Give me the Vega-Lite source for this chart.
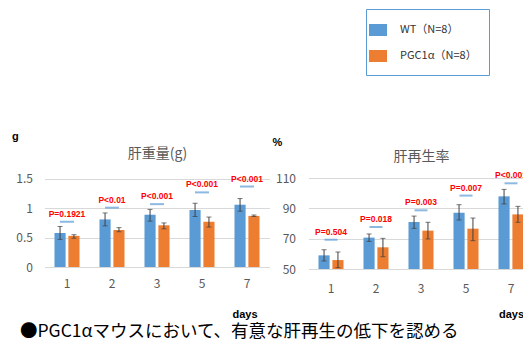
{
  "$schema": "https://vega.github.io/schema/vega-lite/v6.json",
  "background": "white",
  "padding": {"left": 11.5, "top": 8, "right": 0, "bottom": 0},
  "datasets": {
    "liver_weight": [
      {"day": "1", "group": "WT（N=8）", "mean": 0.58, "lo": 0.47, "hi": 0.69},
      {"day": "1", "group": "PGC1α（N=8）", "mean": 0.53, "lo": 0.49, "hi": 0.55},
      {"day": "2", "group": "WT（N=8）", "mean": 0.81, "lo": 0.70, "hi": 0.92},
      {"day": "2", "group": "PGC1α（N=8）", "mean": 0.63, "lo": 0.60, "hi": 0.67},
      {"day": "3", "group": "WT（N=8）", "mean": 0.89, "lo": 0.78, "hi": 0.98},
      {"day": "3", "group": "PGC1α（N=8）", "mean": 0.71, "lo": 0.65, "hi": 0.75},
      {"day": "5", "group": "WT（N=8）", "mean": 0.97, "lo": 0.86, "hi": 1.085},
      {"day": "5", "group": "PGC1α（N=8）", "mean": 0.77, "lo": 0.68, "hi": 0.85},
      {"day": "7", "group": "WT（N=8）", "mean": 1.06, "lo": 0.95, "hi": 1.165},
      {"day": "7", "group": "PGC1α（N=8）", "mean": 0.87, "lo": 0.86, "hi": 0.885}
    ],
    "weight_sig": [
      {"day": "1", "line": 0.77, "label": "P=0.1921"},
      {"day": "2", "line": 1.01, "label": "P<0.01"},
      {"day": "3", "line": 1.07, "label": "P<0.001"},
      {"day": "5", "line": 1.27, "label": "P<0.001"},
      {"day": "7", "line": 1.37, "label": "P<0.001"}
    ],
    "regen": [
      {"day": "1", "group": "WT（N=8）", "mean": 59.0, "lo": 55.3, "hi": 62.7},
      {"day": "1", "group": "PGC1α（N=8）", "mean": 55.9, "lo": 50.9, "hi": 61.2},
      {"day": "2", "group": "WT（N=8）", "mean": 70.7, "lo": 68.2, "hi": 73.1},
      {"day": "2", "group": "PGC1α（N=8）", "mean": 64.3, "lo": 58.1, "hi": 70.2},
      {"day": "3", "group": "WT（N=8）", "mean": 81.0, "lo": 76.8, "hi": 84.9},
      {"day": "3", "group": "PGC1α（N=8）", "mean": 75.3, "lo": 69.8, "hi": 80.8},
      {"day": "5", "group": "WT（N=8）", "mean": 87.1, "lo": 82.3, "hi": 92.4},
      {"day": "5", "group": "PGC1α（N=8）", "mean": 76.6, "lo": 68.7, "hi": 83.6},
      {"day": "7", "group": "WT（N=8）", "mean": 97.9, "lo": 92.9, "hi": 102.5},
      {"day": "7", "group": "PGC1α（N=8）", "mean": 86.0, "lo": 80.8, "hi": 91.3}
    ],
    "regen_sig": [
      {"day": "1", "line": 69.3, "label": "P=0.504"},
      {"day": "2", "line": 77.7, "label": "P=0.018"},
      {"day": "3", "line": 88.7, "label": "P=0.003"},
      {"day": "5", "line": 98.4, "label": "P=0.007"},
      {"day": "7", "line": 106.5, "label": "P<0.001"}
    ]
  },
  "title": {
    "text": "●PGC1αマウスにおいて、有意な肝再生の低下を認める",
    "orient": "bottom",
    "anchor": "start",
    "font": "Noto Sans CJK JP",
    "fontSize": 17.5,
    "fontWeight": "normal",
    "color": "#000000",
    "baseline": "top",
    "offset": 4,
    "dx": 8.5
  },
  "bounds": "flush",
  "spacing": 39,
  "hconcat": [
    {
      "width": 225,
      "height": 94,
      "resolve": {"axis": {"x": "independent"}},
      "layer": [
        {
          "data": {"name": "liver_weight"},
          "mark": {"type": "bar"},
          "encoding": {
            "x": {
              "field": "day", "type": "nominal",
              "scale": {"domain": ["1", "2", "3", "5", "7"], "paddingInner": 0.444, "paddingOuter": 0.222},
              "axis": {"orient": "bottom", "title": "days", "titleX": 212.5, "titleY": 47, "titleAlign": "right", "titleBaseline": "middle", "labelAngle": 0, "labelPadding": 11}
            },
            "xOffset": {"field": "group", "type": "nominal", "scale": {"domain": ["WT（N=8）", "PGC1α（N=8）"], "paddingInner": 0.2}},
            "y": {
              "field": "mean", "type": "quantitative", "title": "g",
              "scale": {"domain": [0, 1.5]},
              "axis": {"values": [0, 0.5, 1, 1.5], "tickCount": 10, "format": "~g", "titleAngle": 0, "titleAlign": "left", "titleBaseline": "middle", "titleX": -33, "titleY": -37, "labelPadding": 12}
            },
            "color": {"field": "group", "type": "nominal", "title": null, "scale": {"domain": ["WT（N=8）", "PGC1α（N=8）"], "range": ["#5b9bd5", "#ed7d31"]}}
          }
        },
        {
          "data": {"name": "liver_weight"},
          "mark": {"type": "rule", "color": "#404040", "strokeWidth": 1},
          "encoding": {
            "x": {"field": "day", "type": "nominal", "axis": null},
            "xOffset": {"field": "group", "type": "nominal"},
            "y": {"field": "lo", "type": "quantitative", "title": "g"},
            "y2": {"field": "hi"}
          }
        },
        {
          "data": {"name": "liver_weight"},
          "mark": {"type": "tick", "color": "#404040", "thickness": 1, "size": 5},
          "encoding": {
            "x": {"field": "day", "type": "nominal", "axis": null},
            "xOffset": {"field": "group", "type": "nominal"},
            "y": {"field": "lo", "type": "quantitative", "title": "g"}
          }
        },
        {
          "data": {"name": "liver_weight"},
          "mark": {"type": "tick", "color": "#404040", "thickness": 1, "size": 5},
          "encoding": {
            "x": {"field": "day", "type": "nominal", "axis": null},
            "xOffset": {"field": "group", "type": "nominal"},
            "y": {"field": "hi", "type": "quantitative", "title": "g"}
          }
        },
        {
          "data": {"name": "weight_sig"},
          "mark": {"type": "tick", "color": "#5b9bd5", "thickness": 2, "size": 14},
          "encoding": {
            "x": {
              "field": "day", "type": "nominal",
              "axis": {"orient": "top", "labels": false, "ticks": false, "domain": false, "grid": false, "title": "肝重量(g)", "titleX": 112.5, "titleY": -20, "titleAlign": "center", "titleBaseline": "middle", "titleFont": "Noto Sans CJK JP", "titleFontSize": 14, "titleFontWeight": "normal", "titleColor": "#595959"}
            },
            "y": {"field": "line", "type": "quantitative", "title": "g"}
          }
        },
        {
          "data": {"name": "weight_sig"},
          "mark": {"type": "text", "color": "#ff0000", "font": "Liberation Sans", "fontWeight": "bold", "fontSize": 8.5, "baseline": "middle", "dy": -8},
          "encoding": {
            "x": {"field": "day", "type": "nominal", "axis": null},
            "y": {"field": "line", "type": "quantitative", "title": "g"},
            "text": {"field": "label"}
          }
        }
      ]
    },
    {
      "width": 225,
      "height": 96,
      "resolve": {"axis": {"x": "independent"}},
      "layer": [
        {
          "data": {"name": "regen"},
          "mark": {"type": "bar"},
          "encoding": {
            "x": {
              "field": "day", "type": "nominal",
              "scale": {"domain": ["1", "2", "3", "5", "7"], "paddingInner": 0.444, "paddingOuter": 0.222},
              "axis": {"orient": "bottom", "title": "days", "titleX": 190, "titleY": 45, "titleAlign": "left", "titleBaseline": "middle", "labelAngle": 0, "labelPadding": 14}
            },
            "xOffset": {"field": "group", "type": "nominal", "scale": {"domain": ["WT（N=8）", "PGC1α（N=8）"], "paddingInner": 0.2}},
            "y": {
              "field": "mean", "type": "quantitative", "title": "%",
              "scale": {"domain": [50, 113.3], "zero": false, "nice": false, "clamp": true},
              "axis": {"values": [50, 70, 90, 110], "tickCount": 10, "titleAngle": 0, "titleAlign": "left", "titleBaseline": "middle", "titleX": -36.5, "titleY": -31, "labelPadding": 13}
            },
            "color": {"field": "group", "type": "nominal", "title": null, "scale": {"domain": ["WT（N=8）", "PGC1α（N=8）"], "range": ["#5b9bd5", "#ed7d31"]}}
          }
        },
        {
          "data": {"name": "regen"},
          "mark": {"type": "rule", "color": "#404040", "strokeWidth": 1},
          "encoding": {
            "x": {"field": "day", "type": "nominal", "axis": null},
            "xOffset": {"field": "group", "type": "nominal"},
            "y": {"field": "lo", "type": "quantitative", "title": "%"},
            "y2": {"field": "hi"}
          }
        },
        {
          "data": {"name": "regen"},
          "mark": {"type": "tick", "color": "#404040", "thickness": 1, "size": 5},
          "encoding": {
            "x": {"field": "day", "type": "nominal", "axis": null},
            "xOffset": {"field": "group", "type": "nominal"},
            "y": {"field": "lo", "type": "quantitative", "title": "%"}
          }
        },
        {
          "data": {"name": "regen"},
          "mark": {"type": "tick", "color": "#404040", "thickness": 1, "size": 5},
          "encoding": {
            "x": {"field": "day", "type": "nominal", "axis": null},
            "xOffset": {"field": "group", "type": "nominal"},
            "y": {"field": "hi", "type": "quantitative", "title": "%"}
          }
        },
        {
          "data": {"name": "regen_sig"},
          "mark": {"type": "tick", "color": "#5b9bd5", "thickness": 2, "size": 13},
          "encoding": {
            "x": {
              "field": "day", "type": "nominal",
              "axis": {"orient": "top", "labels": false, "ticks": false, "domain": false, "grid": false, "title": "肝再生率", "titleX": 112.5, "titleY": -17, "titleAlign": "center", "titleBaseline": "middle", "titleFont": "Noto Sans CJK JP", "titleFontSize": 14, "titleFontWeight": "normal", "titleColor": "#595959"}
            },
            "y": {"field": "line", "type": "quantitative", "title": "%"}
          }
        },
        {
          "data": {"name": "regen_sig"},
          "mark": {"type": "text", "color": "#ff0000", "font": "Liberation Sans", "fontWeight": "bold", "fontSize": 8.5, "baseline": "middle", "dy": -8},
          "encoding": {
            "x": {"field": "day", "type": "nominal", "axis": null},
            "y": {"field": "line", "type": "quantitative", "title": "%"},
            "text": {"field": "label"}
          }
        }
      ]
    }
  ],
  "config": {
    "view": {"stroke": null},
    "axis": {
      "labelFont": "Noto Sans CJK JP",
      "labelFontSize": 12,
      "labelColor": "#595959",
      "titleFont": "Liberation Sans",
      "titleFontSize": 11,
      "titleFontWeight": "bold",
      "titleColor": "#000000",
      "gridColor": "#d9d9d9",
      "domain": false,
      "ticks": false
    },
    "axisX": {"grid": false},
    "axisY": {"grid": true},
    "legend": {
      "orient": "none",
      "legendX": 321.5,
      "legendY": -164,
      "symbolType": "M-1,-0.67H1V0.67H-1Z",
      "symbolSize": 324,
      "symbolStrokeWidth": 0,
      "symbolOpacity": 1,
      "labelFont": "Noto Sans CJK JP",
      "labelFontSize": 11,
      "labelColor": "#333333",
      "labelOffset": 13,
      "rowPadding": 10,
      "padding": 12,
      "symbolOffset": -9,
      "strokeColor": "#5b9bd5"
    }
  }
}
